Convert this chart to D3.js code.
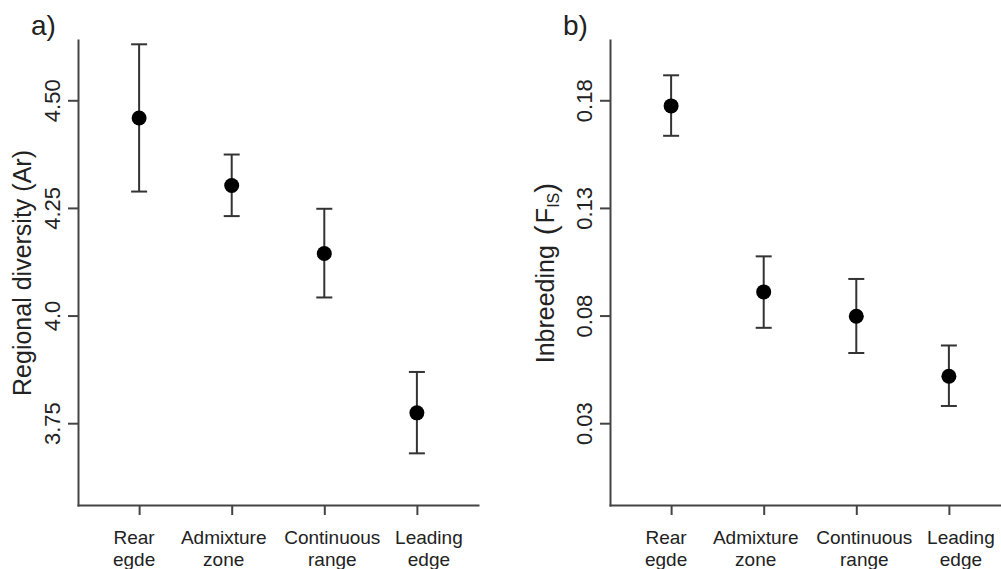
<!DOCTYPE html>
<html>
<head>
<meta charset="utf-8">
<script src="https://cdn.jsdelivr.net/npm/d3@7"></script>
<style>
  body { margin: 0; background: #fff; }
  svg { display: block; font-family: Arial, "Liberation Sans", sans-serif; }
  .axis path, .axis line { stroke: #444; stroke-width: 2; }
  .axis text { fill: #222; }
</style>
</head>
<body>
<div id="chart"></div>
<script>
// categories (two lines each)
const regions = [['Rear', 'egde'], ['Admixture', 'zone'], ['Continuous', 'range'], ['Leading', 'edge']];

// panel a: regional diversity (Ar)
const arMean = [4.459, 4.302, 4.144, 3.774];
const arLow = [4.288, 4.231, 4.042, 3.680];
const arHigh = [4.630, 4.374, 4.248, 3.869];
const arTicks = [3.75, 4.0, 4.25, 4.5];
const arTickLabels = ['3.75', '4.0', '4.25', '4.50'];

// panel b: inbreeding (FIS)
const fisMean = [0.1774, 0.0910, 0.0797, 0.0518];
const fisLow = [0.1635, 0.0743, 0.0626, 0.0380];
const fisHigh = [0.1916, 0.1075, 0.0970, 0.0661];
const fisTicks = [0.03, 0.08, 0.13, 0.18];
const fisTickLabels = ['0.03', '0.08', '0.13', '0.18'];

// small horizontal nudges of the category labels, as in the figure
const labelNudge = [-5, -8, 8, 12];

const width = 1001;
const height = 569;

const svg = d3.select('#chart')
  .append('svg')
  .attr('width', width)
  .attr('height', height);

function drawPanel(opts) {
  const top = 40, bottom = 505;

  // R style: xlim c(0.5, 4.5) padded 4%
  const x = d3.scaleLinear().domain([0.34, 4.66]).range([opts.left, opts.left + 400]);
  const y = d3.scaleLinear().domain(opts.yDomain).range([bottom, top]);

  const g = svg.append('g');

  // y axis
  const yAxis = g.append('g')
    .attr('class', 'axis')
    .attr('transform', `translate(${opts.left},0)`)
    .call(d3.axisLeft(y)
      .tickValues(opts.ticks)
      .tickFormat((d, i) => opts.tickLabels[i])
      .tickSize(10)
      .tickSizeOuter(0));

  yAxis.selectAll('text')
    .attr('transform', 'rotate(-90)')
    .attr('x', 0)
    .attr('y', -26)
    .attr('dy', '0.36em')
    .attr('text-anchor', 'middle')
    .style('font-size', '22px');

  // x axis
  const xAxis = g.append('g')
    .attr('class', 'axis')
    .attr('transform', `translate(0,${bottom})`)
    .call(d3.axisBottom(x)
      .tickValues([1, 2, 3, 4])
      .tickFormat('')
      .tickSize(10)
      .tickSizeOuter(0));

  xAxis.selectAll('path.domain').attr('stroke-linecap', 'square');
  yAxis.selectAll('path.domain').attr('stroke-linecap', 'square');

  // category labels
  const lab = g.append('g')
    .selectAll('text')
    .data(regions)
    .join('text')
    .attr('text-anchor', 'middle')
    .attr('fill', '#222')
    .style('font-size', '19px')
    .attr('transform', (d, i) => `translate(${x(i + 1) + labelNudge[i]},${bottom + 39})`);

  lab.append('tspan').attr('x', 0).attr('y', 0).text(d => d[0]);
  lab.append('tspan').attr('x', 0).attr('y', 21.5).text(d => d[1]);

  // error bars
  const bars = g.append('g')
    .attr('stroke', '#333')
    .attr('stroke-width', 2)
    .selectAll('g')
    .data(opts.mean.map((m, i) => ({ i, m, lo: opts.low[i], hi: opts.high[i] })))
    .join('g');

  bars.append('line')
    .attr('x1', d => x(d.i + 1)).attr('x2', d => x(d.i + 1))
    .attr('y1', d => y(d.lo)).attr('y2', d => y(d.hi));
  bars.append('line')
    .attr('x1', d => x(d.i + 1) - 8).attr('x2', d => x(d.i + 1) + 8)
    .attr('y1', d => y(d.hi)).attr('y2', d => y(d.hi));
  bars.append('line')
    .attr('x1', d => x(d.i + 1) - 8).attr('x2', d => x(d.i + 1) + 8)
    .attr('y1', d => y(d.lo)).attr('y2', d => y(d.lo));

  // points
  g.append('g')
    .selectAll('circle')
    .data(opts.mean)
    .join('circle')
    .attr('cx', (d, i) => x(i + 1))
    .attr('cy', d => y(d))
    .attr('r', 7.5)
    .attr('fill', '#000');

  // panel letter
  g.append('text')
    .attr('x', opts.letterX)
    .attr('y', 35)
    .attr('fill', '#222')
    .style('font-size', '28px')
    .text(opts.letter);

  // y title
  const title = g.append('text')
    .attr('transform', `translate(${opts.titleX},273) rotate(-90)`)
    .attr('text-anchor', 'middle')
    .attr('fill', '#222')
    .style('font-size', '25px');
  opts.title(title);
}

drawPanel({
  left: 78,
  yDomain: [3.56, 4.64],
  ticks: arTicks,
  tickLabels: arTickLabels,
  mean: arMean, low: arLow, high: arHigh,
  letter: 'a)', letterX: 31,
  titleX: 31,
  title: t => t.text('Regional diversity (Ar)')
});

drawPanel({
  left: 610,
  yDomain: [-0.008, 0.208],
  ticks: fisTicks,
  tickLabels: fisTickLabels,
  mean: fisMean, low: fisLow, high: fisHigh,
  letter: 'b)', letterX: 563,
  titleX: 554,
  title: t => {
    t.append('tspan').text('Inbreeding');
    t.append('tspan').attr('dx', 10).style('font-size', '30px').attr('dy', 2).text('(');
    t.append('tspan').attr('dx', 2).attr('dy', -2).text('F');
    t.append('tspan').style('font-size', '16px').attr('dy', 5).text('IS');
    t.append('tspan').style('font-size', '30px').attr('dy', -3).text(')');
  }
});
</script>
</body>
</html>
